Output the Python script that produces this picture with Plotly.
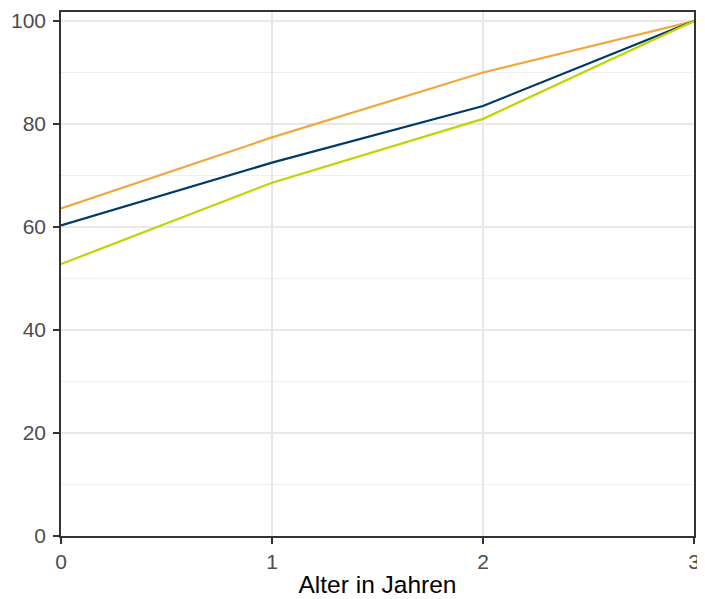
import plotly.graph_objects as go

alter = [0, 1, 2, 3]
orange_vals = [63.6, 77.4, 90.0, 100.0]
navy_vals = [60.3, 72.5, 83.5, 100.0]
green_vals = [52.8, 68.6, 81.0, 100.0]

series = [
    ("A", orange_vals, "#F0A83C"),
    ("B", navy_vals, "#003A66"),
    ("C", green_vals, "#BFD400"),
]

FONT = "Liberation Sans, Arial, sans-serif"

fig = go.Figure()
for name, vals, col in series:
    fig.add_trace(go.Scatter(x=alter, y=vals, mode="lines", name=name,
                             line=dict(color=col, width=2.2), showlegend=False))

axis_common = dict(
    showline=True, linecolor="#333333", linewidth=1.6, mirror=True,
    ticks="outside", ticklen=6, tickwidth=1.6, tickcolor="#333333",
    tickfont=dict(family=FONT, size=21, color="#4d4d4d"),
    gridcolor="#e8e8e8", gridwidth=1.6, zeroline=False, automargin=False,
    ticklabeloverflow="allow",
)

fig.update_xaxes(range=[0, 3], tickvals=[0, 1, 2, 3], **axis_common,
                 title=dict(text="Alter in Jahren", standoff=4,
                            font=dict(family=FONT, size=24.5, color="black")))
fig.update_yaxes(range=[0, 101.75], tickvals=[0, 20, 40, 60, 80, 100], **axis_common,
                 ticklabelstandoff=3,
                 minor=dict(tickvals=[10, 30, 50, 70, 90], showgrid=True, gridcolor="#f0f0f0",
                            gridwidth=0.9, ticks=""))

# the page adds an 8px body margin, so the figure is sized to fit the 705x599 window
fig.update_layout(
    width=697, height=591,
    margin=dict(l=53, r=11, t=4, b=63),
    plot_bgcolor="white", paper_bgcolor="white",
)

fig.write_html("out.html")
